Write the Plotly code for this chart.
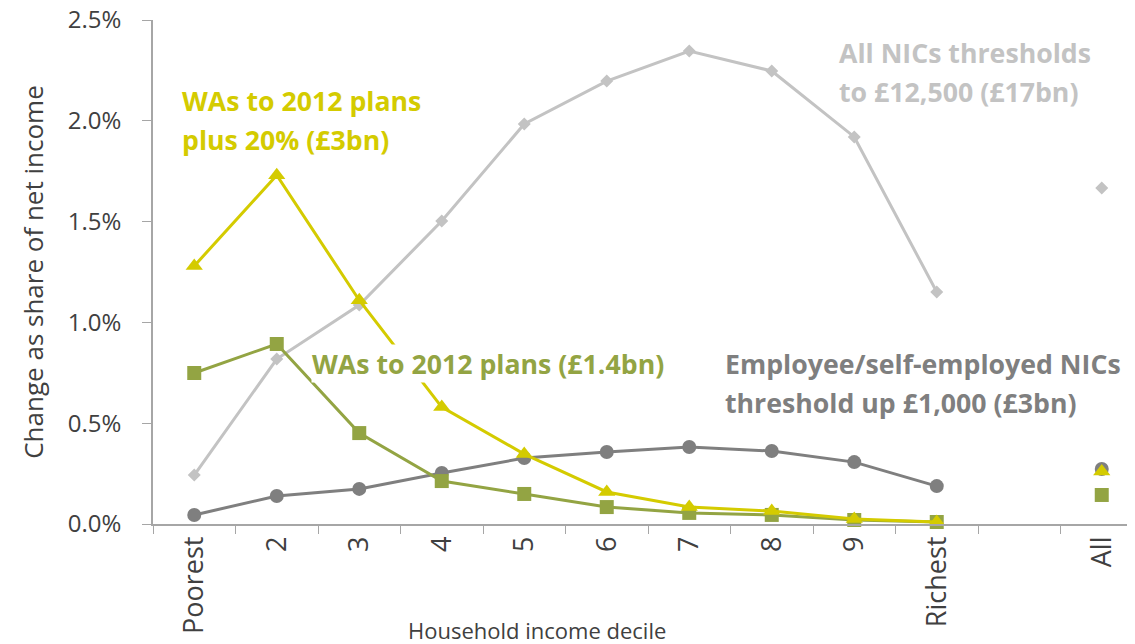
import plotly.graph_objects as go

deciles = ["Poorest", "2", "3", "4", "5", "6", "7", "8", "9", "Richest"]
categories = deciles + [" ", "All"]
y_ticks = [0, 0.5, 1.0, 1.5, 2.0, 2.5]
y_tick_labels = ["0.0%", "0.5%", "1.0%", "1.5%", "2.0%", "2.5%"]

# values in % of net income
all_nics = [0.243, 0.818, 1.086, 1.503, 1.984, 2.197, 2.346, 2.247, 1.920, 1.151]
all_nics_all = 1.667
wa_plus20 = [1.28, 1.73, 1.11, 0.58, 0.347, 0.159, 0.084, 0.064, 0.025, 0.010]
wa_plus20_all = 0.26
wa_2012 = [0.749, 0.893, 0.451, 0.213, 0.149, 0.084, 0.055, 0.045, 0.020, 0.010]
wa_2012_all = 0.144
emp_nics = [0.045, 0.139, 0.174, 0.253, 0.327, 0.357, 0.382, 0.362, 0.307, 0.188]
emp_nics_all = 0.273

c_light = "#C3C3C3"
c_yellow = "#D4CB00"
c_green = "#93A443"
c_dark = "#7F7F7F"
c_text = "#404040"
c_axis = "#A6A6A6"

fig = go.Figure()

series = [
    (all_nics, all_nics_all, c_light, "diamond", 10),
    (emp_nics, emp_nics_all, c_dark, "circle", 14),
    (wa_2012, wa_2012_all, c_green, "square", 14),
    (wa_plus20, wa_plus20_all, c_yellow, "triangle-up", 15),
]
for vals, allv, col, sym, sz in series:
    fig.add_trace(go.Scatter(x=deciles, y=vals, mode="lines+markers",
                             line=dict(color=col, width=3),
                             marker=dict(color=col, symbol=sym, size=sz),
                             showlegend=False, cliponaxis=False))
    fig.add_trace(go.Scatter(x=["All"], y=[allv], mode="markers",
                             marker=dict(color=col, symbol=sym, size=sz),
                             showlegend=False, cliponaxis=False))

font_family = "Open Sans"
W, H = 1135, 644
OFF = 8  # page body margin
L, R, T, B = 145, 0, 12, 128
PW, PH = W - L - R, H - T - B


def px(xp):
    return (xp - OFF - L) / PW


def py(yp):
    return 1 - (yp - OFF - T) / PH


labels = [
    ("All NICs thresholds", 838, 53, c_light, None),
    ("to £12,500 (£17bn)", 838, 92, c_light, None),
    ("WAs to 2012 plans", 181, 101, c_yellow, None),
    ("plus 20% (£3bn)", 181, 139, c_yellow, None),
    ("WAs to 2012 plans (£1.4bn)", 311, 363, c_green, "white"),
    ("Employee/self-employed NICs", 724, 363, c_dark, None),
    ("threshold up £1,000 (£3bn)", 724, 402, c_dark, None),
]
for text, x, y, col, bg in labels:
    fig.add_annotation(text=text, xref="paper", yref="paper", x=px(x), y=py(y),
                       xanchor="left", yanchor="middle", align="left", showarrow=False,
                       font=dict(family=font_family, size=26.7, color=col, weight="bold"),
                       bgcolor=bg if bg else "rgba(0,0,0,0)", borderpad=0)

fig.add_annotation(text="Household income decile", xref="paper", yref="paper",
                   x=px(537), y=py(630), xanchor="center", yanchor="middle", showarrow=False,
                   font=dict(family=font_family, size=22, color=c_text))

fig.update_layout(
    width=W, height=H,
    margin=dict(l=L, r=R, t=T, b=B, autoexpand=False),
    plot_bgcolor="white", paper_bgcolor="white",
    font=dict(family=font_family, color=c_text),
)
fig.update_xaxes(type="category", categoryorder="array", categoryarray=categories,
                 range=[-0.5, len(categories) - 0.5], automargin=False,
                 tickson="boundaries", ticks="outside", ticklen=8, tickcolor=c_axis,
                 showline=True, linecolor=c_axis, linewidth=1.5, showgrid=False,
                 tickangle=-90, tickfont=dict(size=27, color=c_text), zeroline=False,
                 ticklabeloverflow="allow")
fig.update_yaxes(range=[0, 2.5], tickvals=y_ticks, ticktext=y_tick_labels, automargin=False,
                 ticks="outside", ticklen=9, tickcolor=c_axis,
                 showline=True, linecolor=c_axis, linewidth=1.5, showgrid=False,
                 zeroline=False, tickfont=dict(size=24, color=c_text),
                 ticklabelstandoff=16, ticklabeloverflow="allow",
                 title=dict(text="Change as share of net income",
                            font=dict(size=26, color=c_text), standoff=17))

fig.write_html("out.html")
